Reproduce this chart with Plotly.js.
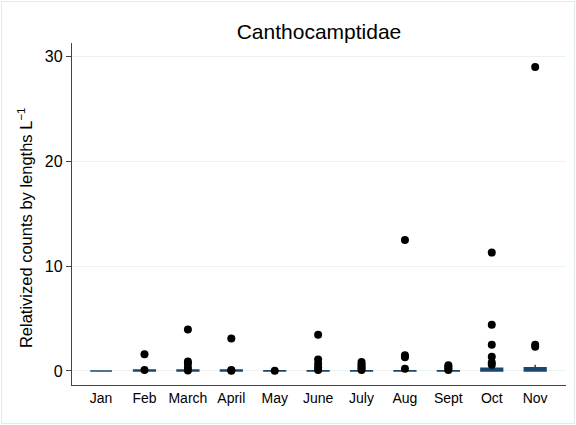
<!DOCTYPE html>
<html>
<head>
<meta charset="utf-8">
<script src="https://cdn.plot.ly/plotly-3.0.1.min.js"></script>
<style>
  html, body { margin: 0; padding: 0; background: #ffffff; }
  #wrap { position: relative; width: 576px; height: 425px; }
  #chart { width: 576px; height: 425px; }
  #frame { position: absolute; left: 1px; top: 1px; width: 572px; height: 421px;
           border: 1px solid #e1eaec; pointer-events: none; }
</style>
</head>
<body>
<div id="wrap"><div id="chart"></div><div id="frame"></div></div>
<script>
// Categories
const months = ["Jan", "Feb", "March", "April", "May", "June", "July", "Aug", "Sept", "Oct", "Nov"];

// Box statistics per month
const q1     = [0, 0, 0, 0, 0, 0, 0, 0, 0, 0, 0];
const median = [0, 0, 0, 0, 0, 0, 0, 0, 0, 0.05, 0.1];
const q3     = [0, 0.1, 0.1, 0.08, 0.02, 0.03, 0.03, 0.03, 0.03, 0.25, 0.3];
const lowerFence = [0, 0, 0, 0, 0, 0, 0, 0, 0, 0, 0];
const upperFence = [0, 0.1, 0.1, 0.08, 0.02, 0.03, 0.03, 0.03, 0.03, 0.5, 0.6];

// Outside values per month
const janOut   = [];
const febOut   = [1.6, 0.1];
const marchOut = [3.95, 0.9, 0.7, 0.3, 0.05];
const aprilOut = [3.1, 0.08, 0.03];
const mayOut   = [0.03];
const juneOut  = [3.45, 1.1, 0.7, 0.35, 0.08];
const julyOut  = [0.85, 0.65, 0.45, 0.25, 0.08];
const augOut   = [12.5, 1.5, 1.3, 0.2];
const septOut  = [0.55, 0.4, 0.25, 0.1];
const octOut   = [11.3, 4.4, 2.5, 1.35, 0.8, 0.6];
const novOut   = [29.0, 2.5, 2.3];

const outsideByMonth = [janOut, febOut, marchOut, aprilOut, mayOut, juneOut, julyOut, augOut, septOut, octOut, novOut];

const outX = [], outY = [];
outsideByMonth.forEach((vals, i) => vals.forEach(v => { outX.push(months[i]); outY.push(v); }));

const navy = "#1a476f";

const boxTrace = {
  type: "box",
  x: months,
  q1: q1, median: median, q3: q3,
  lowerfence: lowerFence, upperfence: upperFence,
  boxpoints: false,
  width: 0.5,
  whiskerwidth: 0,
  fillcolor: navy,
  line: { color: navy, width: 1.5 },
  hoverinfo: "skip",
  showlegend: false
};

const outTrace = {
  type: "scatter",
  mode: "markers",
  x: outX, y: outY,
  marker: { color: "#000000", size: 8, line: { width: 0 } },
  showlegend: false,
  hoverinfo: "skip"
};

const font = "Liberation Sans, Arial, Helvetica, sans-serif";

const layout = {
  width: 576, height: 425,
  paper_bgcolor: "#ffffff",
  plot_bgcolor: "#ffffff",
  margin: { l: 72, r: 10, t: 43, b: 40 },
  font: { family: font, color: "#000000" },
  title: {
    text: "Canthocamptidae",
    font: { family: font, size: 21, color: "#000000" },
    x: 0.5, xref: "paper", xanchor: "center",
    y: 1, yref: "paper", yanchor: "bottom", pad: { b: 4 }
  },
  xaxis: {
    type: "category",
    categoryorder: "array",
    categoryarray: months,
    range: [-0.67, 10.71],
    showgrid: false,
    zeroline: false,
    showline: true,
    linecolor: "#444444",
    linewidth: 1.2,
    ticks: "",
    tickfont: { family: font, size: 14, color: "#000000" },
    fixedrange: true
  },
  yaxis: {
    range: [-1.34, 31.3],
    tickvals: [0, 10, 20, 30],
    ticktext: ["0", "10", "20", "30"],
    showgrid: true,
    gridcolor: "#eaf2f3",
    gridwidth: 1,
    zeroline: false,
    showline: true,
    linecolor: "#444444",
    linewidth: 1.2,
    ticks: "outside",
    ticklen: 5,
    tickcolor: "#444444",
    tickwidth: 1,
    tickfont: { family: font, size: 16, color: "#000000" },
    fixedrange: true
  },
  annotations: [{
    text: "Relativized counts by lengths L<sup>−1</sup>",
    textangle: -90,
    xref: "paper", yref: "paper",
    x: -0.095, y: 0.459,
    xanchor: "center", yanchor: "middle",
    showarrow: false,
    font: { family: font, size: 16.5, color: "#000000" }
  }]
};

Plotly.newPlot("chart", [boxTrace, outTrace], layout, { displayModeBar: false, staticPlot: true });
</script>
</body>
</html>
